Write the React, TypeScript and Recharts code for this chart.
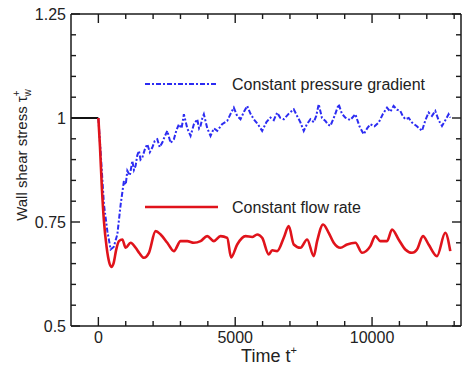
import React from 'react';
import { LineChart, Line, XAxis, YAxis } from 'recharts';

// 初始段 (t < 0)
const initTime = [-1000, 0];
const initWall = [1, 1];

// Constant flow rate
const flowTime = [
  0, 60, 130, 204, 300, 400, 474, 560, 650, 752, 876, 996, 1179, 1361, 1500, 1664, 1847, 2091, 2274, 2518,
  2759, 3004, 3248, 3489, 3734, 3978, 4219, 4464, 4708, 4850, 5073, 5376, 5620, 5803, 5985, 6226, 6350, 6533,
  6774, 6956, 7139, 7383, 7628, 7869, 7993, 8212, 8416, 8599, 8843, 9088, 9391, 9635, 9938, 10120, 10303,
  10547, 10730, 10971, 11215, 11460, 11642, 11861, 12066, 12372, 12675, 12858,
];
const flowWall = [
  1.0, 0.93, 0.83, 0.752, 0.69, 0.652, 0.642, 0.652, 0.683, 0.704, 0.708, 0.688, 0.7, 0.688, 0.675, 0.664,
  0.676, 0.728, 0.72, 0.7, 0.68, 0.704, 0.704, 0.7, 0.704, 0.716, 0.704, 0.716, 0.712, 0.665, 0.696, 0.716,
  0.714, 0.72, 0.712, 0.672, 0.682, 0.68, 0.712, 0.74, 0.696, 0.688, 0.708, 0.668, 0.704, 0.744, 0.724, 0.7,
  0.688, 0.696, 0.7, 0.676, 0.692, 0.716, 0.704, 0.704, 0.732, 0.708, 0.684, 0.676, 0.684, 0.716, 0.696,
  0.668, 0.724, 0.68,
];

// Constant pressure gradient
const pressureTime = [
  0, 100, 204, 328, 449, 560, 693, 814, 934, 1000, 1058, 1150, 1241, 1300, 1361, 1420, 1482, 1540, 1606, 1700,
  1788, 1880, 1971, 2060, 2153, 2240, 2336, 2420, 2518, 2640, 2759, 2850, 2942, 3040, 3124, 3250, 3369, 3490,
  3613, 3680, 3734, 3800, 3854, 3980, 4099, 4220, 4343, 4520, 4708, 4830, 4949, 5070, 5193, 5320, 5438, 5560,
  5679, 5830, 5985, 6140, 6288, 6410, 6533, 6650, 6774, 6950, 7139, 7260, 7380, 7504, 7620, 7748, 7870, 7960,
  8051, 8170, 8296, 8380, 8478, 8630, 8781, 8900, 9026, 9200, 9391, 9540, 9693, 9820, 9938, 10090, 10241,
  10400, 10547, 10670, 10788, 10910, 11033, 11120, 11215, 11340, 11460, 11640, 11825, 11950, 12066, 12190,
  12310, 12430, 12555, 12680, 12796, 12858,
];
const pressureWall = [
  1.0, 0.9, 0.792, 0.728, 0.684, 0.69, 0.72, 0.792, 0.849, 0.84, 0.873, 0.862, 0.897, 0.875, 0.885, 0.91,
  0.921, 0.9, 0.905, 0.925, 0.937, 0.918, 0.929, 0.945, 0.949, 0.93, 0.941, 0.955, 0.969, 0.94, 0.949, 0.97,
  0.985, 0.975, 1.009, 0.975, 0.957, 0.985, 0.997, 0.975, 0.981, 1.0, 1.009, 0.975, 0.957, 0.975, 0.969,
  0.985, 0.993, 1.01, 1.025, 1.005, 0.997, 1.015, 1.029, 1.01, 0.997, 0.985, 0.969, 0.99, 1.001, 0.995,
  1.013, 1.0, 0.997, 1.01, 1.021, 1.005, 0.99, 0.969, 0.985, 0.997, 0.99, 1.005, 1.033, 1.0, 0.993, 0.985,
  0.981, 1.005, 1.033, 1.01, 1.001, 0.995, 1.009, 0.98, 0.961, 0.975, 0.985, 0.98, 0.989, 1.01, 1.025,
  1.015, 1.029, 1.02, 1.017, 1.005, 0.997, 1.0, 0.989, 0.98, 0.969, 0.995, 1.013, 1.005, 1.017, 0.995, 0.981,
  0.995, 1.009, 1.001,
];

const xTicks = [0, 1000, 2000, 3000, 4000, 5000, 6000, 7000, 8000, 9000, 10000, 11000, 12000, 13000];
const xMajor = [0, 5000, 10000];
const yTicks = [0.5, 0.55, 0.6, 0.65, 0.7, 0.75, 0.8, 0.85, 0.9, 0.95, 1, 1.05, 1.1, 1.15, 1.2, 1.25];
const yMajor = [0.5, 0.75, 1, 1.25];

const toRows = (t: number[], v: number[]) => t.map((x, i) => ({ t: x, v: v[i] }));
const initData = toRows(initTime, initWall);
const flowData = toRows(flowTime, flowWall);
const pressureData = toRows(pressureTime, pressureWall);

const FONT = '"Liberation Sans", Arial, sans-serif';
const AXIS = '#1a1a1a';
const RED = '#e0131b';
const BLUE = '#2c2cf2';
const isMajor = (list: number[], v: number) => list.some((m) => Math.abs(m - v) < 1e-9);

const bottomTick = (p: any) => {
  const x = Number(p.x);
  const y = Number(p.y);
  const major = isMajor(xMajor, p.payload.value);
  return (
    <g key={`b${p.index}`}>
      <path d={`M${x},${y}V${y - (major ? 9 : 5)}`} stroke={AXIS} strokeWidth={1.4} fill="none" />
      {major && (
        <text x={x} y={y + 17} textAnchor="middle" fontSize={16} fill="#222" fontFamily={FONT}>
          {p.payload.value}
        </text>
      )}
    </g>
  );
};

const topTick = (p: any) => {
  const x = Number(p.x);
  const y = Number(p.y);
  const major = isMajor(xMajor, p.payload.value);
  return (
    <path key={`t${p.index}`} d={`M${x},${y}V${y + (major ? 9 : 5)}`} stroke={AXIS} strokeWidth={1.4} fill="none" />
  );
};

const leftTick = (p: any) => {
  const x = Number(p.x);
  const y = Number(p.y);
  const major = isMajor(yMajor, p.payload.value);
  return (
    <g key={`l${p.index}`}>
      <path d={`M${x},${y}H${x + (major ? 9 : 5)}`} stroke={AXIS} strokeWidth={1.4} fill="none" />
      {major && (
        <text x={x - 5} y={y} dy="0.35em" textAnchor="end" fontSize={16} fill="#222" fontFamily={FONT}>
          {p.payload.value}
        </text>
      )}
    </g>
  );
};

const rightTick = (p: any) => {
  const x = Number(p.x);
  const y = Number(p.y);
  const major = isMajor(yMajor, p.payload.value);
  return (
    <path key={`r${p.index}`} d={`M${x},${y}H${x - (major ? 9 : 5)}`} stroke={AXIS} strokeWidth={1.4} fill="none" />
  );
};

const XTitle = ({ viewBox }: any) => {
  const cx = viewBox.x + viewBox.width / 2 + 3;
  const cy = viewBox.y + 36;
  return (
    <text x={cx} y={cy} textAnchor="middle" fontSize={18} fill="#222" fontFamily={FONT}>
      Time  t<tspan dy={-8} fontSize={11}>+</tspan>
    </text>
  );
};

const YTitle = ({ viewBox }: any) => {
  const cx = viewBox.x + 27;
  const cy = viewBox.y + viewBox.height / 2 - 15;
  return (
    <text
      x={cx}
      y={cy}
      transform={`rotate(-90, ${cx}, ${cy})`}
      textAnchor="middle"
      fontSize={15}
      fill="#222"
      fontFamily={FONT}
    >
      Wall shear stress  τ<tspan dy={-7} fontSize={10}>+</tspan>
      <tspan dx={-6} dy={11} fontSize={10}>w</tspan>
    </text>
  );
};

export default function App() {
  return (
    <div style={{ position: 'absolute', left: 0, top: 0, width: 463, height: 369, background: '#fff' }}>
      <LineChart width={463} height={369} margin={{ top: 13, right: 1, bottom: 0, left: 0 }}>
        <XAxis
          xAxisId="b"
          dataKey="t"
          type="number"
          domain={[-1000, 13250]}
          ticks={xTicks}
          allowDataOverflow
          height={43}
          tickSize={0}
          tickMargin={0}
          tickLine={false}
          axisLine={{ stroke: AXIS, strokeWidth: 1.5 }}
          tick={bottomTick}
          interval={0}
          label={XTitle}
        />
        <XAxis
          xAxisId="top"
          orientation="top"
          dataKey="t"
          type="number"
          domain={[-1000, 13250]}
          ticks={xTicks}
          allowDataOverflow
          height={1}
          tickSize={0}
          tickMargin={0}
          tickLine={false}
          axisLine={{ stroke: AXIS, strokeWidth: 1.5 }}
          tick={topTick}
          interval={0}
        />
        <YAxis
          yAxisId="l"
          type="number"
          domain={[0.5, 1.25]}
          ticks={yTicks}
          allowDataOverflow
          width={71}
          tickSize={0}
          tickMargin={0}
          tickLine={false}
          axisLine={{ stroke: AXIS, strokeWidth: 1.5 }}
          tick={leftTick}
          interval={0}
          label={YTitle}
        />
        <YAxis
          yAxisId="r"
          orientation="right"
          type="number"
          domain={[0.5, 1.25]}
          ticks={yTicks}
          allowDataOverflow
          width={1}
          tickSize={0}
          tickMargin={0}
          tickLine={false}
          axisLine={{ stroke: AXIS, strokeWidth: 1.5 }}
          tick={rightTick}
          interval={0}
        />
        <Line
          xAxisId="b"
          yAxisId="l"
          data={initData}
          dataKey="v"
          stroke="#111"
          strokeWidth={2}
          dot={false}
          isAnimationActive={false}
        />
        <Line
          xAxisId="b"
          yAxisId="l"
          data={pressureData}
          dataKey="v"
          stroke={BLUE}
          strokeWidth={2}
          strokeDasharray="5 2 2 2"
          dot={false}
          isAnimationActive={false}
        />
        <Line
          xAxisId="b"
          yAxisId="l"
          type="monotone"
          data={flowData}
          dataKey="v"
          stroke={RED}
          strokeWidth={2.6}
          dot={false}
          isAnimationActive={false}
        />
      </LineChart>
      {/* 图例 */}
      <svg width={463} height={369} style={{ position: 'absolute', left: 0, top: 0, pointerEvents: 'none' }}>
        <line x1={145} y1={84} x2={217} y2={84} stroke={BLUE} strokeWidth={2} strokeDasharray="5 2 2 2" />
        <text x={232} y={84} dy="0.35em" fontSize={16} fill="#222" fontFamily={FONT}>
          Constant pressure gradient
        </text>
        <line x1={145} y1={207} x2={218} y2={207} stroke={RED} strokeWidth={2.6} />
        <text x={232} y={207} dy="0.35em" fontSize={16} fill="#222" fontFamily={FONT}>
          Constant flow rate
        </text>
      </svg>
    </div>
  );
}
